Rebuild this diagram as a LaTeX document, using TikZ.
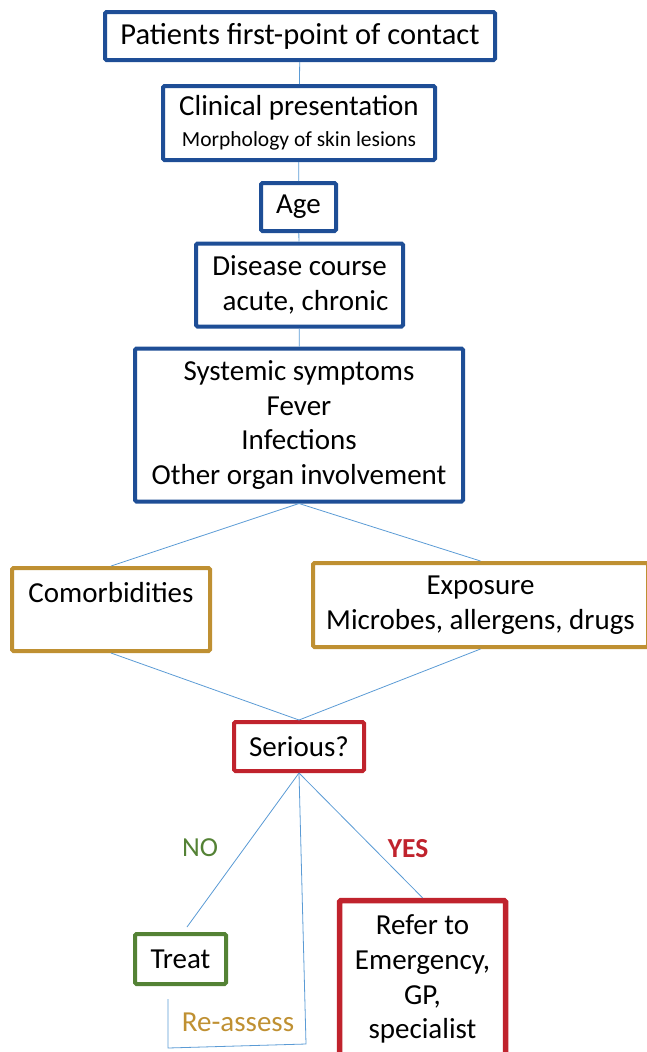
\documentclass[tikz,border=0pt]{standalone}
\usepackage{fontspec}
\setmainfont{Carlito}
\definecolor{boxblue}{RGB}{30,78,150}
\definecolor{boxgold}{RGB}{191,144,50}
\definecolor{boxred}{RGB}{192,35,45}
\definecolor{boxgreen}{RGB}{84,130,53}
\definecolor{linkblue}{RGB}{91,155,213}
\begin{document}
\begin{tikzpicture}[x=1pt,y=-1pt,
    box/.style={draw,fill=white,rectangle,rounded corners=1.5pt,inner sep=0pt,align=center,
      font=\fontsize{29}{34.8}\selectfont},
    bluebox/.style={box,draw=boxblue,line width=4pt},
    goldbox/.style={box,draw=boxgold,line width=4pt},
    redbox/.style={box,draw=boxred,line width=4pt},
    greenbox/.style={box,draw=boxgreen,line width=4pt},
    link/.style={draw=linkblue,line width=0.8pt}]
    \useasboundingbox (0,0) rectangle (646,1052);

    % main column
    \node[bluebox,minimum width=390pt,minimum height=48pt,font=\fontsize{30.5}{36}\selectfont] (contact) at (300,36)
      {Patients first-point of contact};
    \node[bluebox,minimum width=272pt,minimum height=74pt] (clinical) at (299,123)
      {Clinical presentation\\[-4pt]{\fontsize{21.5}{26}\selectfont Morphology of skin lesions}};
    \node[bluebox,minimum width=75pt,minimum height=48pt] (age) at (298.5,207) {Age};
    \node[bluebox,minimum width=207pt,minimum height=83pt] (course) at (299.5,285)
      {Disease course\\\hspace*{12pt}acute, chronic};
    \node[bluebox,minimum width=328pt,minimum height=153pt] (systemic) at (299,425)
      {Systemic symptoms\\Fever\\Infections\\Other organ involvement};

    % side factors
    \node[goldbox,minimum width=198pt,minimum height=83pt] (comorb) at (111,609.5)
      {Comorbidities\\~};
    \node[goldbox,minimum width=335pt,minimum height=84pt] (exposure) at (480.5,605)
      {Exposure\\Microbes, allergens, drugs};

    % decision
    \node[redbox,minimum width=130pt,minimum height=49pt] (serious) at (299,746.5) {Serious?};
    \node[greenbox,minimum width=91pt,minimum height=50pt] (treat) at (180.5,959) {Treat};
    \node[redbox,line width=5.5pt,minimum width=166pt,minimum height=157pt] (refer) at (422.5,979)
      {Refer to\\Emergency,\\GP,\\specialist};

    \node[font=\fontsize{27.5}{32}\selectfont,text=boxgreen] (no) at (200,848) {NO};
    \node[font=\fontsize{27.5}{32}\selectfont\bfseries,text=boxred] (yes) at (408,849) {YES};
    \node[font=\fontsize{29}{34}\selectfont,text=boxgold] (reassess) at (238,1022) {Re-assess};

    \coordinate (treattop) at (187,927);
    \coordinate (loopA) at (306,1044);
    \coordinate (loopB) at (168,1048);
    \coordinate (loopC) at (168,999);

    \draw[link] (contact) -- (clinical);% Draw spine
    \draw[link] (clinical) -- (age);
    \draw[link] (age) -- (course);
    \draw[link] (course) -- (systemic);
    \draw[link] (systemic.south) -- (comorb.north);% Draw split
    \draw[link] (systemic.south) -- (exposure.north);
    \draw[link] (comorb.south) -- (serious.north);% Draw join
    \draw[link] (exposure.south) -- (serious.north);
    \draw[link] (serious.south) -- (treattop);% Draw NO
    \draw[link] (serious.south) -- (refer.north);% Draw YES
    \draw[link] (serious.south) -- (loopA) -- (loopB) -- (loopC);% Draw re-assess loop
\end{tikzpicture}
\end{document}
